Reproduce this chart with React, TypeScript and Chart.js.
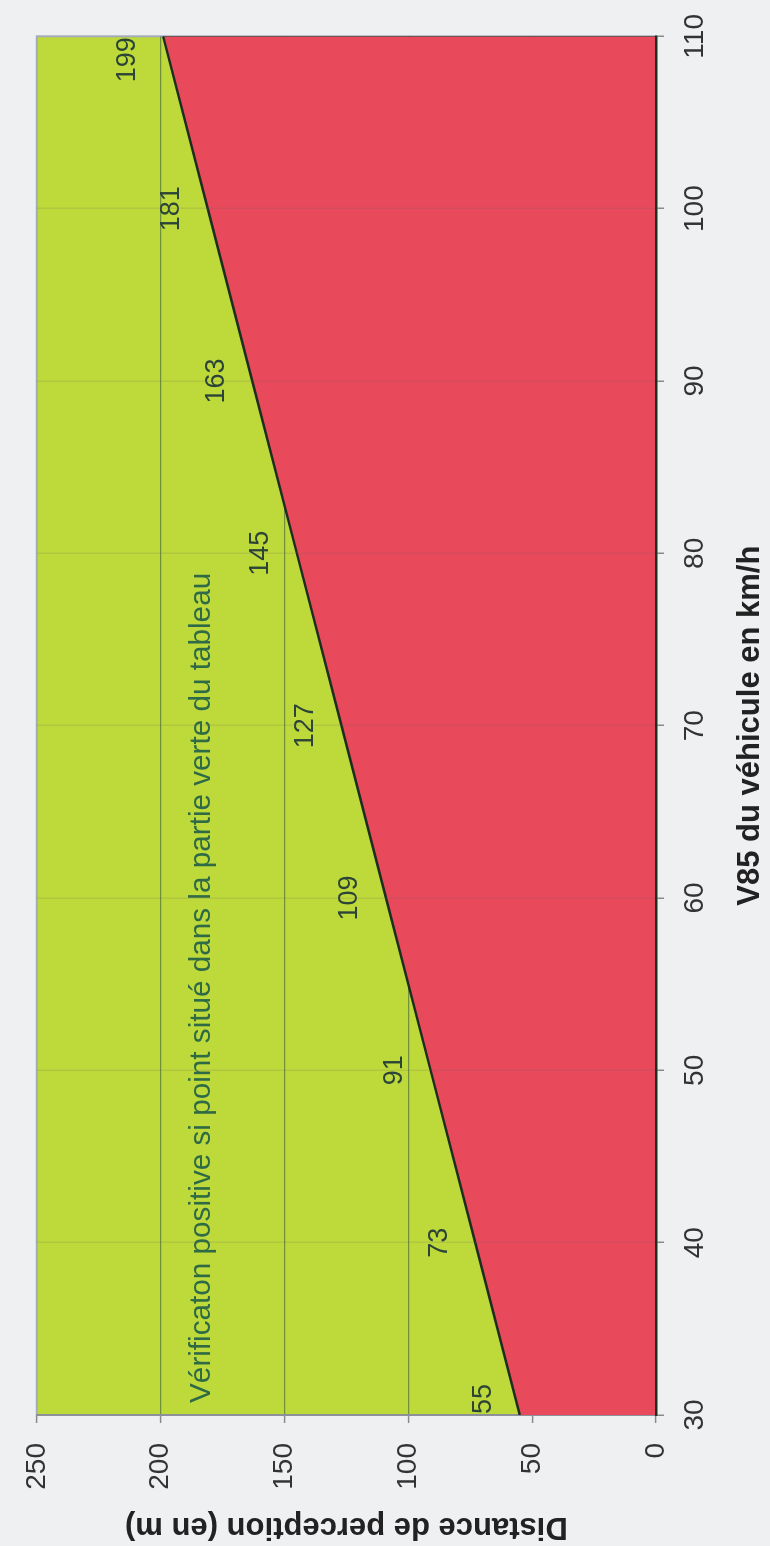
import { useEffect, useRef } from "react";
import { Chart, registerables } from "chart.js";

Chart.register(...registerables);

// ---- data ----
const speeds = [30, 40, 50, 60, 70, 80, 90, 100, 110];
const distances = [55, 73, 91, 109, 127, 145, 163, 181, 199];
const speedTicks = [30, 40, 50, 60, 70, 80, 90, 100, 110];
const distanceTicks = [0, 50, 100, 150, 200, 250];
const xTitle = "V85 du véhicule en km/h";
const yTitle = "Distance de perception (en m)";
const noteText = "Vérificaton positive si point situé dans la partie verte du tableau";
const notePos = { x: 30.7, y: 180 };

// ---- style ----
const W = 1546;
const H = 770;
const GREEN = "#bed93a";
const RED = "#e8495b";
const LINE = "#1c2f1e";
const FONT = '"Liberation Sans", Arial, Helvetica, sans-serif';

const plotBg = {
  id: "plotBg",
  beforeDraw(chart: any) {
    const { ctx, chartArea: a } = chart;
    ctx.save();
    ctx.fillStyle = GREEN;
    ctx.fillRect(a.left, a.top, a.right - a.left, a.bottom - a.top);
    ctx.strokeStyle = "#a3adba";
    ctx.lineWidth = 2;
    ctx.strokeRect(a.left, a.top, a.right - a.left, a.bottom - a.top);
    ctx.restore();
  },
};

const labelsPlugin = {
  id: "valueLabels",
  afterDatasetsDraw(chart: any) {
    const { ctx, chartArea: a } = chart;
    const meta = chart.getDatasetMeta(0);
    ctx.save();
    ctx.font = `27px ${FONT}`;
    ctx.fillStyle = "#2c4438";
    ctx.textAlign = "center";
    ctx.textBaseline = "middle";
    meta.data.forEach((pt: any, i: number) => {
      const text = String(distances[i]);
      const w = ctx.measureText(text).width;
      const cx = Math.min(Math.max(pt.x, a.left + w / 2 + 1), a.right - w / 2 - 1);
      ctx.fillText(text, cx, pt.y - 36);
    });
    // annotation
    const nx = chart.scales.x.getPixelForValue(notePos.x);
    const ny = chart.scales.y.getPixelForValue(notePos.y);
    ctx.font = `29.7px ${FONT}`;
    ctx.fillStyle = "#2e6a45";
    ctx.textAlign = "left";
    ctx.textBaseline = "alphabetic";
    ctx.fillText(noteText, nx, ny);
    ctx.restore();
  },
};

export default function App() {
  const ref = useRef<HTMLCanvasElement>(null);

  useEffect(() => {
    const canvas = ref.current;
    if (!canvas) return;
    const last = speeds.length - 1;
    Chart.defaults.font.family = FONT;
    const chart = new Chart(canvas, {
      type: "line",
      data: {
        datasets: [
          {
            data: speeds.map((x, i) => ({ x, y: distances[i] })),
            borderColor: LINE,
            borderWidth: 2.5,
            backgroundColor: RED,
            fill: "origin",
            pointRadius: 0,
            tension: 0,
          },
          {
            data: [
              { x: speeds[0], y: 0 },
              { x: speeds[0], y: distances[0] },
            ],
            borderColor: LINE,
            borderWidth: 2.5,
            pointRadius: 0,
            fill: false,
          },
          {
            data: [
              { x: speeds[last], y: 0 },
              { x: speeds[last], y: distances[last] },
            ],
            borderColor: LINE,
            borderWidth: 2.5,
            pointRadius: 0,
            fill: false,
          },
        ],
      },
      options: {
        animation: false,
        responsive: false,
        events: [],
        layout: { padding: { top: 27, right: 35, left: 0, bottom: 0 } },
        plugins: {
          legend: { display: false },
          tooltip: { enabled: false },
        },
        scales: {
          x: {
            type: "linear",
            min: speedTicks[0],
            max: speedTicks[speedTicks.length - 1],
            afterBuildTicks: (s: any) => {
              s.ticks = speedTicks.map((value) => ({ value }));
            },
            afterFit: (s: any) => {
              s.height = H - 656;
            },
            grid: {
              z: 1,
              color: (c: any) =>
                c.tick && (c.tick.value === speedTicks[0] || c.tick.value === speedTicks[speedTicks.length - 1])
                  ? "rgba(0,0,0,0)"
                  : "rgba(110,100,100,0.16)",
              lineWidth: 1.5,
              tickLength: 8,
              tickColor: "#8a8a8a",
              tickWidth: 1.5,
            },
            border: { display: true, color: LINE, width: 2.5, z: 1 },
            ticks: {
              font: { size: 28 },
              color: "#333",
              padding: 14,
              maxRotation: 0,
              autoSkip: false,
            },
            title: {
              display: true,
              text: xTitle,
              color: "#222",
              font: { size: 31, weight: "bold" },
              padding: { top: 0, bottom: 1 },
            },
          },
          y: {
            type: "linear",
            min: distanceTicks[0],
            max: distanceTicks[distanceTicks.length - 1],
            afterBuildTicks: (s: any) => {
              s.ticks = distanceTicks.map((value) => ({ value }));
            },
            afterFit: (s: any) => {
              s.width = 131;
            },
            grid: {
              color: (c: any) =>
                c.tick && (c.tick.value === distanceTicks[0] || c.tick.value === distanceTicks[distanceTicks.length - 1])
                  ? "rgba(0,0,0,0)"
                  : "rgba(50,85,60,0.55)",
              lineWidth: 1.2,
              tickLength: 8,
              tickColor: "#8a8a8a",
              tickWidth: 1.5,
            },
            border: { display: true, color: "#8b9099", width: 2 },
            ticks: {
              font: { size: 28 },
              color: "#333",
              padding: 20,
            },
            title: {
              display: true,
              text: yTitle,
              color: "#222",
              font: { size: 31, weight: "bold" },
              padding: { top: 1, bottom: 0 },
            },
          },
        },
      },
      plugins: [plotBg, labelsPlugin],
    } as any);
    return () => chart.destroy();
  }, []);

  return (
    <div
      style={{
        position: "absolute",
        left: 0,
        top: 0,
        width: H,
        height: W,
        overflow: "hidden",
        background: "#eef0f2",
      }}
    >
      <div
        style={{
          position: "absolute",
          left: 0,
          top: 0,
          width: W,
          height: H,
          transformOrigin: "0 0",
          transform: `translate(0px, ${W}px) rotate(-90deg)`,
        }}
      >
        <canvas ref={ref} width={W} height={H} style={{ display: "block", width: W, height: H }} />
      </div>
    </div>
  );
}
